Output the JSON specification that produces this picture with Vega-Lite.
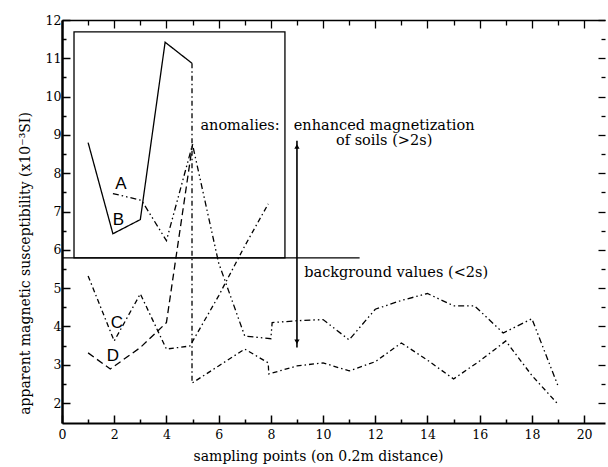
{
  "$schema": "https://vega.github.io/schema/vega-lite/v6.json",
  "width": 543,
  "height": 403,
  "autosize": {"type": "none"},
  "padding": {"left": 62, "top": 20, "right": 3, "bottom": 44},
  "background": "white",
  "config": {
    "view": {"stroke": null},
    "axis": {
      "grid": false,
      "domainColor": "black",
      "tickColor": "black",
      "labelColor": "black",
      "titleColor": "black",
      "labelFont": "DejaVu Serif",
      "titleFont": "DejaVu Serif",
      "titleFontWeight": "normal",
      "labelFontSize": 12.5,
      "titleFontSize": 14
    }
  },
  "datasets": {
    "profiles": [
      {"s": "A", "seq": 1, "x": 1.95, "y": 7.47},
      {"s": "A", "seq": 2, "x": 3.05, "y": 7.29},
      {"s": "A", "seq": 3, "x": 4, "y": 6.24},
      {"s": "A", "seq": 4, "x": 5, "y": 8.75},
      {"s": "A", "seq": 5, "x": 6, "y": 5.66},
      {"s": "A", "seq": 6, "x": 7, "y": 3.75},
      {"s": "A", "seq": 7, "x": 8, "y": 3.68},
      {"s": "A", "seq": 8, "x": 8.05, "y": 4.1},
      {"s": "A", "seq": 9, "x": 9, "y": 4.15},
      {"s": "A", "seq": 10, "x": 10, "y": 4.18},
      {"s": "A", "seq": 11, "x": 11, "y": 3.65},
      {"s": "A", "seq": 12, "x": 12, "y": 4.45},
      {"s": "A", "seq": 13, "x": 13, "y": 4.68},
      {"s": "A", "seq": 14, "x": 14, "y": 4.86},
      {"s": "A", "seq": 15, "x": 15, "y": 4.54},
      {"s": "A", "seq": 16, "x": 15.8, "y": 4.54},
      {"s": "A", "seq": 17, "x": 16.9, "y": 3.83},
      {"s": "A", "seq": 18, "x": 18, "y": 4.2},
      {"s": "A", "seq": 19, "x": 19, "y": 2.45},
      {"s": "B", "seq": 1, "x": 1, "y": 8.8},
      {"s": "B", "seq": 2, "x": 1.95, "y": 6.42},
      {"s": "B", "seq": 3, "x": 3, "y": 6.79},
      {"s": "B", "seq": 4, "x": 3.95, "y": 11.42},
      {"s": "B", "seq": 5, "x": 4.98, "y": 10.87},
      {"s": "B2", "seq": 1, "x": 4.98, "y": 10.87},
      {"s": "B2", "seq": 2, "x": 4.98, "y": 2.52},
      {"s": "B2", "seq": 3, "x": 6, "y": 2.97},
      {"s": "B2", "seq": 4, "x": 7, "y": 3.41},
      {"s": "B2", "seq": 5, "x": 7.9, "y": 3.05},
      {"s": "B2", "seq": 6, "x": 7.92, "y": 2.76},
      {"s": "B2", "seq": 7, "x": 9, "y": 2.97},
      {"s": "B2", "seq": 8, "x": 10, "y": 3.05},
      {"s": "B2", "seq": 9, "x": 11, "y": 2.84},
      {"s": "B2", "seq": 10, "x": 12, "y": 3.08},
      {"s": "B2", "seq": 11, "x": 13, "y": 3.57},
      {"s": "B2", "seq": 12, "x": 14, "y": 3.12},
      {"s": "B2", "seq": 13, "x": 15, "y": 2.63},
      {"s": "B2", "seq": 14, "x": 16, "y": 3.1},
      {"s": "B2", "seq": 15, "x": 17, "y": 3.62},
      {"s": "B2", "seq": 16, "x": 18, "y": 2.72},
      {"s": "B2", "seq": 17, "x": 19, "y": 1.97},
      {"s": "C", "seq": 1, "x": 1, "y": 5.32},
      {"s": "C", "seq": 2, "x": 2, "y": 3.62},
      {"s": "C", "seq": 3, "x": 3, "y": 4.85},
      {"s": "C", "seq": 4, "x": 4, "y": 3.41},
      {"s": "C", "seq": 5, "x": 4.9, "y": 3.49},
      {"s": "C", "seq": 6, "x": 6, "y": 4.8},
      {"s": "C", "seq": 7, "x": 7, "y": 6.1},
      {"s": "C", "seq": 8, "x": 7.9, "y": 7.2},
      {"s": "D", "seq": 1, "x": 1, "y": 3.31},
      {"s": "D", "seq": 2, "x": 1.85, "y": 2.89},
      {"s": "D", "seq": 3, "x": 3, "y": 3.45},
      {"s": "D", "seq": 4, "x": 4, "y": 4.1},
      {"s": "D", "seq": 5, "x": 5, "y": 8.75}
    ],
    "box": [{"x": 0.46, "x2": 8.54, "y": 5.79, "y2": 11.69}],
    "threshold": [{"x": 0, "x2": 11.4, "y": 5.79}],
    "arrow": [{"x": 9, "y": 3.45, "y2": 8.85}],
    "heads": [
      {"x": 9, "y": 8.7, "shape": "triangle-up"},
      {"x": 9, "y": 3.6, "shape": "triangle-down"}
    ],
    "notes": [
      {"t": "anomalies:", "x": 6.82, "y": 9.23},
      {"t": "enhanced magnetization", "x": 12.34, "y": 9.23},
      {"t": "of soils (>2s)", "x": 12.34, "y": 8.83},
      {"t": "background values (<2s)", "x": 12.8, "y": 5.4}
    ],
    "letters": [
      {"t": "A", "x": 2.26, "y": 7.73},
      {"t": "B", "x": 2.16, "y": 6.78},
      {"t": "C", "x": 2.1, "y": 4.1},
      {"t": "D", "x": 1.95, "y": 3.23}
    ]
  },
  "resolve": {"axis": {"x": "independent", "y": "independent"}},
  "layer": [
    {
      "data": {"name": "profiles"},
      "mark": {"type": "line", "color": "black", "strokeWidth": 1.3},
      "encoding": {
        "x": {
          "field": "x", "type": "quantitative",
          "scale": {"domain": [0, 20.8], "nice": false, "zero": false},
          "axis": {
            "orient": "bottom",
            "title": "sampling points (on 0.2m distance)",
            "titleX": 256,
            "titlePadding": 9,
            "values": [0,1,2,3,4,5,6,7,8,9,10,11,12,13,14,15,16,17,18,19,20],
            "labelExpr": "datum.value % 2 == 0 ? format(datum.value, 'd') : ''",
            "tickSize": {"condition": {"test": "datum.value % 2 == 0", "value": -8}, "value": -4},
            "tickWidth": 1.5,
            "domainWidth": 2,
            "labelPadding": 13,
            "labelFlush": false
          }
        },
        "y": {
          "field": "y", "type": "quantitative",
          "scale": {"domain": [1.48, 12], "nice": false, "zero": false},
          "axis": {
            "orient": "left",
            "title": "apparent magnetic susceptibility (x10⁻³SI)",
            "titleY": 243,
            "titlePadding": 13,
            "values": [2,2.5,3,3.5,4,4.5,5,5.5,6,6.5,7,7.5,8,8.5,9,9.5,10,10.5,11,11.5,12],
            "labelExpr": "datum.value % 1 == 0 ? format(datum.value, 'd') : ''",
            "tickSize": {"condition": {"test": "datum.value % 1 == 0", "value": -8}, "value": -4},
            "tickWidth": 1.5,
            "domainWidth": 2.5,
            "labelPadding": 9,
            "labelFlush": false
          }
        },
        "strokeDash": {
          "field": "s", "type": "nominal", "legend": null,
          "scale": {
            "domain": ["A", "B", "B2", "C", "D"],
            "range": [[6, 3, 1.5, 3, 1.5, 3], [1, 0], [5, 3, 1.5, 3], [5, 3, 1.5, 3], [7, 4]]
          }
        },
        "detail": {"field": "s"},
        "order": {"field": "seq", "type": "quantitative"}
      }
    },
    {
      "data": {"name": "box"},
      "mark": {"type": "rect", "fill": null, "fillOpacity": 0, "stroke": "black", "strokeWidth": 1.3},
      "encoding": {
        "x": {
          "field": "x", "type": "quantitative",
          "axis": {
            "orient": "top", "title": null, "labels": false,
            "values": [0,1,2,3,4,5,6,7,8,9,10,11,12,13,14,15,16,17,18,19,20],
            "tickSize": {"condition": {"test": "datum.value % 2 == 0", "value": -8}, "value": -5},
            "tickWidth": 1.3,
            "domainWidth": 1.5
          }
        },
        "x2": {"field": "x2"},
        "y": {
          "field": "y", "type": "quantitative",
          "axis": {
            "orient": "right", "title": null, "labels": false, "domain": false,
            "values": [2,2.5,3,3.5,4,4.5,5,5.5,6,6.5,7,7.5,8,8.5,9,9.5,10,10.5,11,11.5,12],
            "tickSize": {"condition": {"test": "datum.value % 1 == 0", "value": -7}, "value": -4},
            "tickWidth": 1.3
          }
        },
        "y2": {"field": "y2"}
      }
    },
    {
      "data": {"name": "threshold"},
      "mark": {"type": "rule", "color": "black", "strokeWidth": 1.3},
      "encoding": {
        "x": {"field": "x", "type": "quantitative", "axis": null},
        "x2": {"field": "x2"},
        "y": {"field": "y", "type": "quantitative", "axis": null}
      }
    },
    {
      "data": {"name": "arrow"},
      "mark": {"type": "rule", "color": "black", "strokeWidth": 1.6},
      "encoding": {
        "x": {"field": "x", "type": "quantitative", "axis": null},
        "y": {"field": "y", "type": "quantitative", "axis": null},
        "y2": {"field": "y2"}
      }
    },
    {
      "data": {"name": "heads"},
      "mark": {"type": "point", "filled": true, "color": "black", "size": 28, "opacity": 1},
      "encoding": {
        "x": {"field": "x", "type": "quantitative", "axis": null},
        "y": {"field": "y", "type": "quantitative", "axis": null},
        "shape": {"field": "shape", "type": "nominal", "scale": null, "legend": null}
      }
    },
    {
      "data": {"name": "notes"},
      "mark": {"type": "text", "font": "DejaVu Serif", "fontSize": 14.5, "color": "black", "baseline": "middle", "align": "center"},
      "encoding": {
        "x": {"field": "x", "type": "quantitative", "axis": null},
        "y": {"field": "y", "type": "quantitative", "axis": null},
        "text": {"field": "t"}
      }
    },
    {
      "data": {"name": "letters"},
      "mark": {"type": "text", "font": "Liberation Sans", "fontSize": 17, "color": "black", "baseline": "middle", "align": "center"},
      "encoding": {
        "x": {"field": "x", "type": "quantitative", "axis": null},
        "y": {"field": "y", "type": "quantitative", "axis": null},
        "text": {"field": "t"}
      }
    }
  ]
}
